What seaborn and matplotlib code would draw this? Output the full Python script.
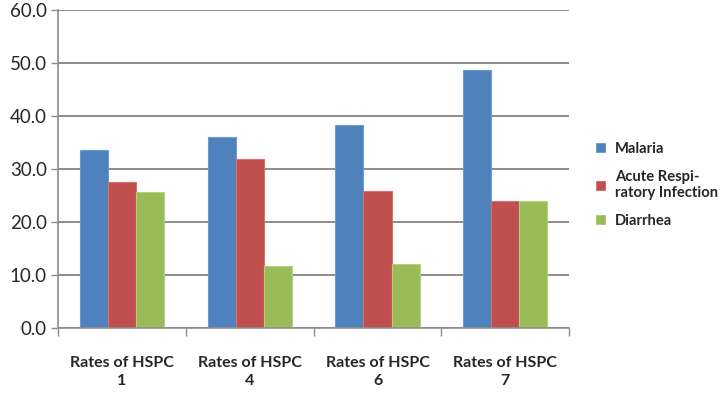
import pandas as pd
import numpy as np
import matplotlib
matplotlib.use("Agg")
import matplotlib.pyplot as plt
import seaborn as sns

# values
categories = ["Rates of HSPC\n1", "Rates of HSPC\n4", "Rates of HSPC\n6", "Rates of HSPC\n7"]
series = ["Malaria", "Acute Respi-\nratory Infection", "Diarrhea"]
malaria = [33.5, 36.0, 38.3, 48.7]
ari = [27.5, 31.8, 25.8, 23.9]
diarrhea = [25.6, 11.8, 12.1, 23.9]
colors = ["#4F81BD", "#C0504D", "#9BBB59"]
edges = ["#6E9BD3", "#D8706C", "#B3D27A"]

rows = []
for name, vals in zip(series, [malaria, ari, diarrhea]):
    for cat, v in zip(categories, vals):
        rows.append({"group": cat, "disease": name, "rate": v})
df = pd.DataFrame(rows)

sns.set_style("white")
plt.rcParams["font.family"] = ["Lato", "DejaVu Sans"]

fig = plt.figure(figsize=(7.26, 3.93), dpi=100)
ax = fig.add_axes([0.08, 0.165, 0.704, 0.81])

sns.barplot(data=df, x="group", y="rate", hue="disease", palette=colors,
            width=0.66, gap=0, saturation=1, ax=ax, legend=True)

for i, cont in enumerate(ax.containers):
    for p in cont:
        p.set_edgecolor(edges[i])
        p.set_linewidth(0.8)

# y axis
ax.set_ylim(0, 60)
ax.set_yticks(np.arange(0, 61, 10))
ax.set_yticklabels([f"{v:.1f}" for v in np.arange(0, 61, 10)], fontsize=13.5)
ax.yaxis.grid(True, color="#8C8C8C", linewidth=1.4)
ax.set_axisbelow(True)

# x axis: labels centred, ticks at the category boundaries
ax.set_xlim(-0.5, 3.5)
ax.set_xticks(range(4))
ax.set_xticklabels(categories, fontsize=11.5, fontweight="bold", linespacing=1.35)
ax.set_xticks(np.arange(-0.5, 4, 1), minor=True)
ax.tick_params(axis="x", which="major", length=0, pad=20)
ax.tick_params(axis="x", which="minor", length=6, width=1, color="#8C8C8C", direction="out", bottom=True)
ax.tick_params(axis="y", length=5, width=1, color="#8C8C8C", direction="out", left=True, pad=3)
ax.set_xlabel("")
ax.set_ylabel("")
for s in ["top", "right"]:
    ax.spines[s].set_visible(False)
for s in ["left", "bottom"]:
    ax.spines[s].set_color("#8C8C8C")
    ax.spines[s].set_linewidth(1.2)

ax.legend(loc="center left", bbox_to_anchor=(1.03, 0.45), frameon=False,
          prop={"weight": "bold", "size": 10.6}, handlelength=0.75, handleheight=0.75,
          handletextpad=0.6, labelspacing=0.95, borderaxespad=0.3)

fig.savefig("out.png", dpi=100)
